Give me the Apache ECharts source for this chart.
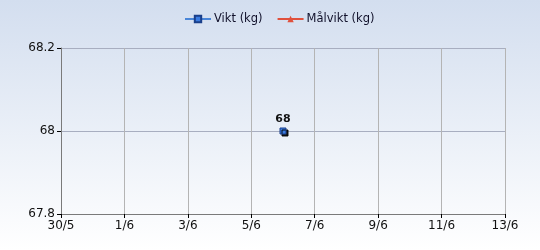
<!DOCTYPE html>
<html><head><meta charset="utf-8">
<script src="https://cdn.jsdelivr.net/npm/echarts@6/dist/echarts.min.js"></script>
<style>html,body{margin:0;padding:0;}#c{width:540px;height:250px;}</style>
</head><body><div id="c"></div>
<script>
const startDate = '2024-05-30';
const viktDates = ['2024-06-06'];
const viktValues = [68];
const malDates = [];
const malValues = [];
const yTicks = [67.8, 68, 68.2];

const DAY = 86400000;
const t0 = Date.parse(startDate + 'T00:00:00Z');
const toX = d => (Date.parse(d + 'T00:00:00Z') - t0) / DAY;
const fmtX = v => { const d = new Date(t0 + v * DAY); return d.getUTCDate() + '/' + (d.getUTCMonth() + 1); };
const font = 'DejaVu Sans';

const chart = echarts.init(document.getElementById('c'));
chart.setOption({
  backgroundColor: new echarts.graphic.LinearGradient(0, 0, 0, 1, [
    {offset: 0, color: '#d3deef'}, {offset: 1, color: '#ffffff'}]),
  animation: false,
  textStyle: {fontFamily: font},
  legend: {
    top: 8, left: 179, itemGap: 14, itemWidth: 26, itemHeight: 8,
    textStyle: {fontFamily: font, fontSize: 11.5, color: '#10102a', padding: [0, 0, 0, -2]},
    data: ['Vikt (kg)', 'Målvikt (kg)']
  },
  grid: {left: 61, right: 35, top: 48, bottom: 36},
  xAxis: {
    type: 'value', min: 0, max: 14, interval: 2,
    axisLine: {lineStyle: {color: '#7a7a7a'}},
    axisTick: {show: true, length: 4, lineStyle: {color: '#000'}},
    axisLabel: {formatter: fmtX, fontFamily: font, fontSize: 12, color: '#111', margin: 6},
    splitLine: {show: true, lineStyle: {color: '#b4b4b4'}}
  },
  yAxis: {
    type: 'value', min: yTicks[0], max: yTicks[yTicks.length - 1], interval: 0.2,
    axisLine: {show: true, lineStyle: {color: '#7a7a7a'}},
    axisTick: {show: true, length: 4, lineStyle: {color: '#000'}},
    axisLabel: {formatter: v => String(Math.round(v * 10) / 10), fontFamily: font, fontSize: 12, color: '#111', margin: 6},
    splitLine: {show: true, lineStyle: {color: '#a8aec0'}}
  },
  series: [
    {
      name: 'Vikt (kg)', type: 'line', symbol: 'rect', symbolSize: 6,
      data: viktDates.map((d, i) => [toX(d), viktValues[i]]),
      lineStyle: {color: '#4a86d8', width: 3},
      itemStyle: {color: '#3a7be0', borderColor: '#1a3f8a', borderWidth: 1,
        shadowColor: 'rgba(0,0,0,0.9)', shadowOffsetX: 2, shadowOffsetY: 2, shadowBlur: 0},
      label: {show: true, position: 'top', distance: 3, fontFamily: font, fontSize: 11, fontWeight: 'bold', color: '#111'}
    },
    {
      name: 'Målvikt (kg)', type: 'line', symbol: 'triangle', symbolSize: 7,
      data: malDates.map((d, i) => [toX(d), malValues[i]]),
      lineStyle: {color: '#e0503c', width: 3},
      itemStyle: {color: '#e0503c'}
    }
  ]
});
</script></body></html>
